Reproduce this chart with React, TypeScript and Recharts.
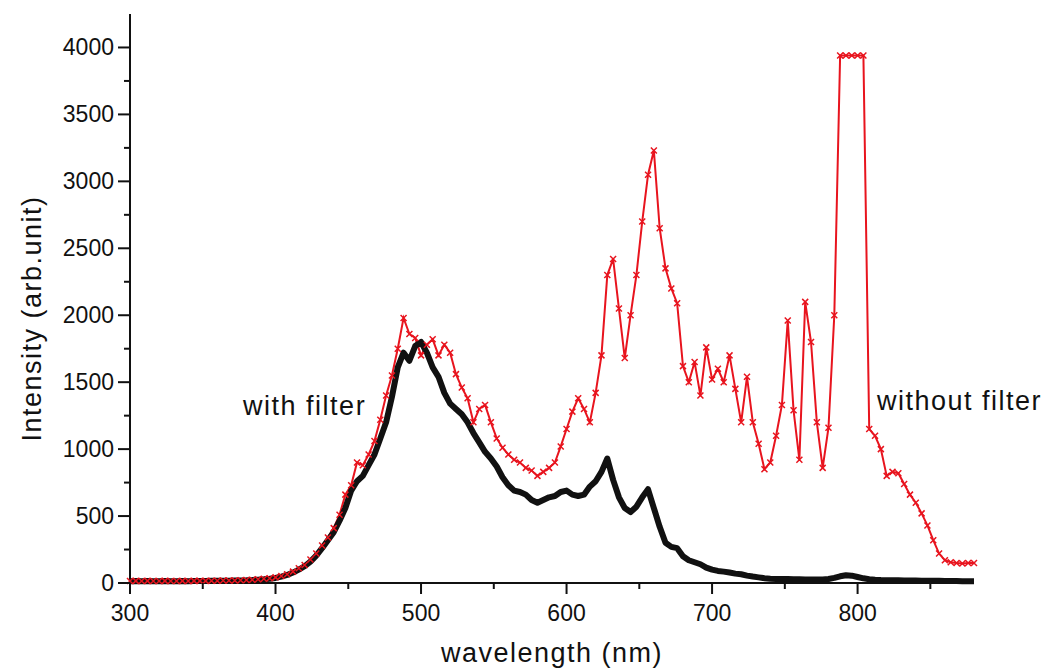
import { LineChart, Line, XAxis, YAxis, ReferenceDot, Label } from 'recharts';

// wavelength grid (nm), 4 nm step
const wavelengths = [
  300, 304, 308, 312, 316, 320, 324, 328, 332, 336,
  340, 344, 348, 352, 356, 360, 364, 368, 372, 376,
  380, 384, 388, 392, 396, 400, 404, 408, 412, 416,
  420, 424, 428, 432, 436, 440, 444, 448, 452, 456,
  460, 464, 468, 472, 476, 480, 484, 488, 492, 496,
  500, 504, 508, 512, 516, 520, 524, 528, 532, 536,
  540, 544, 548, 552, 556, 560, 564, 568, 572, 576,
  580, 584, 588, 592, 596, 600, 604, 608, 612, 616,
  620, 624, 628, 632, 636, 640, 644, 648, 652, 656,
  660, 664, 668, 672, 676, 680, 684, 688, 692, 696,
  700, 704, 708, 712, 716, 720, 724, 728, 732, 736,
  740, 744, 748, 752, 756, 760, 764, 768, 772, 776,
  780, 784, 788, 792, 796, 800, 804, 808, 812, 816,
  820, 824, 828, 832, 836, 840, 844, 848, 852, 856,
  860, 864, 868, 872, 876, 880,
];

const withFilter = [
  14, 15, 14, 15, 14, 14, 15, 14, 14, 15,
  14, 15, 15, 15, 16, 16, 17, 17, 18, 19,
  20, 22, 25, 28, 32, 38, 48, 60, 78, 100,
  125, 160, 205, 260, 320, 380, 465, 560, 690, 760,
  800, 880, 960, 1080, 1200, 1390, 1610, 1720, 1660, 1770,
  1800, 1720, 1610, 1540, 1420, 1340, 1300, 1260, 1200, 1120,
  1050, 980, 930, 870, 790, 730, 690, 680, 660, 620,
  600, 620, 640, 650, 680, 690, 660, 650, 660, 720,
  760, 830, 930, 770, 640, 560, 530, 570, 640, 700,
  560, 420, 300, 270, 260, 200, 170, 155, 140, 115,
  100, 90, 85, 78, 70, 65, 55, 48, 42, 36,
  32, 30, 30, 29, 28, 28, 27, 27, 26, 27,
  30, 38, 50, 58, 55, 45, 35, 28, 24, 22,
  21, 20, 20, 19, 18, 18, 17, 17, 16, 16,
  15, 15, 15, 14, 14, 14,
];

const withoutFilter = [
  15, 16, 15, 16, 15, 15, 16, 15, 15, 16,
  15, 16, 16, 16, 17, 17, 18, 18, 19, 20,
  22, 24, 28, 32, 36, 42, 52, 65, 85, 110,
  135, 175, 220, 280, 340, 410, 510, 660, 730, 900,
  880, 960, 1060, 1220, 1400, 1550, 1750, 1980, 1860, 1830,
  1700, 1780, 1820, 1700, 1780, 1720, 1560, 1460, 1380, 1200,
  1300, 1330, 1200, 1080, 1010, 960, 920, 900, 860, 840,
  800, 830, 860, 900, 1020, 1150, 1280, 1380, 1300, 1200,
  1420, 1700, 2300, 2420, 2050, 1680, 2000, 2300, 2700, 3050,
  3230, 2650, 2350, 2200, 2090, 1620, 1500, 1650, 1400, 1760,
  1520, 1600, 1500, 1700, 1450, 1200, 1540, 1200, 1040, 850,
  900, 1100, 1330, 1960, 1290, 920, 2100, 1800, 1200, 860,
  1160, 2000, 3940, 3940, 3940, 3940, 3940, 1150, 1100, 1000,
  800, 830, 820, 740, 660, 600, 520, 430, 320, 220,
  170, 155, 150, 145, 150, 150,
];

const xTicks = [300, 350, 400, 450, 500, 550, 600, 650, 700, 750, 800, 850];
const yTicks = [
  0, 250, 500, 750, 1000, 1250, 1500, 1750, 2000, 2250,
  2500, 2750, 3000, 3250, 3500, 3750, 4000,
];

const data = wavelengths.map((w, i) => ({
  w,
  withFilter: withFilter[i],
  withoutFilter: withoutFilter[i],
}));

const FONT = '"Liberation Sans", Arial, Helvetica, sans-serif';
const INK = '#111';
const RED = '#e8141e';

function XTick({ x, y, payload }: any) {
  const major = payload.value % 100 === 0;
  return (
    <g>
      <line x1={x} y1={y} x2={x} y2={y + (major ? 11 : 6)} stroke={INK} strokeWidth={2} />
      {major && (
        <text x={x} y={y + 38} textAnchor="middle" fontSize={23} fill={INK} fontFamily={FONT}>
          {payload.value}
        </text>
      )}
    </g>
  );
}

function YTick({ x, y, payload }: any) {
  const major = payload.value % 500 === 0;
  return (
    <g>
      <line x1={x - (major ? 12 : 6)} y1={y} x2={x} y2={y} stroke={INK} strokeWidth={2} />
      {major && (
        <text x={x - 16} y={y + 8} textAnchor="end" fontSize={23} fill={INK} fontFamily={FONT}>
          {payload.value}
        </text>
      )}
    </g>
  );
}

function Cross({ cx, cy, index }: any) {
  const s = 3;
  return (
    <path
      key={index}
      d={`M${cx - s},${cy - s}L${cx + s},${cy + s}M${cx - s},${cy + s}L${cx + s},${cy - s}`}
      stroke={RED}
      strokeWidth={1.5}
      fill="none"
    />
  );
}

export default function App() {
  return (
    <div style={{ position: 'absolute', left: 0, top: 0, width: 1045, height: 669, background: '#fff', fontFamily: FONT }}>
      <LineChart width={1045} height={669} data={data} margin={{ top: 14, right: 71, bottom: 0, left: 0 }}>
        <XAxis
          dataKey="w"
          type="number"
          domain={[300, 880]}
          ticks={xTicks}
          interval={0}
          height={86}
          tickSize={0}
          tickMargin={0}
          tickLine={false}
          tick={<XTick />}
          axisLine={{ stroke: INK, strokeWidth: 2 }}
        >
          <Label
            value="wavelength (nm)"
            position="insideBottom"
            offset={7}
            fontSize={27}
            fill={INK}
            letterSpacing={1.5}
            fontFamily={FONT}
          />
        </XAxis>
        <YAxis
          type="number"
          domain={[0, 4250]}
          ticks={yTicks}
          interval={0}
          width={130}
          tickSize={0}
          tickMargin={0}
          tickLine={false}
          tick={<YTick />}
          axisLine={{ stroke: INK, strokeWidth: 2 }}
        >
          <Label
            value="Intensity (arb.unit)"
            angle={-90}
            position="center"
            dx={-34}
            dy={20}
            fontSize={27}
            fill={INK}
            letterSpacing={1.5}
            fontFamily={FONT}
          />
        </YAxis>
        <Line
          type="linear"
          dataKey="withoutFilter"
          stroke={RED}
          strokeWidth={2}
          dot={Cross}
          activeDot={false}
          isAnimationActive={false}
        />
        <Line
          type="linear"
          dataKey="withFilter"
          stroke={INK}
          strokeWidth={6}
          strokeLinejoin="round"
          dot={false}
          activeDot={false}
          isAnimationActive={false}
        />
        <ReferenceDot
          x={420}
          y={1327}
          r={1}
          fill="none"
          stroke="none"
          label={{ value: 'with filter', position: 'center', fontSize: 27, fill: INK, letterSpacing: 1.5, fontFamily: FONT }}
        />
        <ReferenceDot
          x={870}
          y={1364}
          r={1}
          fill="none"
          stroke="none"
          label={{ value: 'without filter', position: 'center', fontSize: 27, fill: INK, letterSpacing: 1.5, fontFamily: FONT }}
        />
      </LineChart>
    </div>
  );
}
